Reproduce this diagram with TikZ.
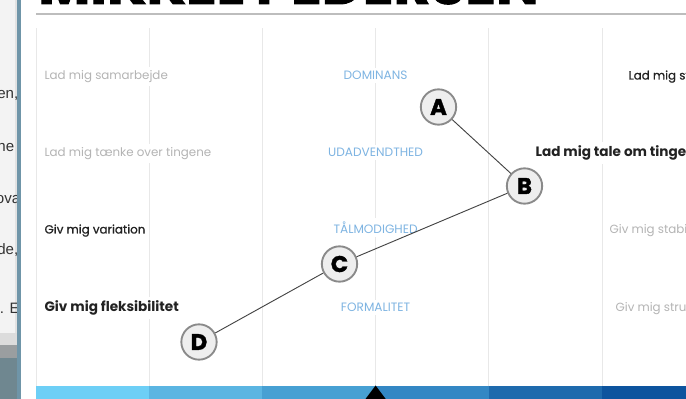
\documentclass[tikz,border=0pt]{standalone}
\usepackage{fontspec}
\setmainfont{Poppins}
\newfontfamily\popmed[FakeBold=0.7]{Poppins}
\newfontfamily\popheavy[FakeBold=1.6]{Poppins}
\newfontfamily\stripfont{Liberation Sans}
\definecolor{gridc}{HTML}{E8E8E8}
\definecolor{rulec}{HTML}{BDBDBD}
\definecolor{lightc}{HTML}{B4B4B4}
\definecolor{bluec}{HTML}{7EB4E2}
\definecolor{darkc}{HTML}{222222}
\definecolor{circfill}{HTML}{EEEEEE}
\definecolor{circdraw}{HTML}{8A8A8A}
\definecolor{connc}{HTML}{444444}
\definecolor{barA}{HTML}{6DCFF6}
\definecolor{barB}{HTML}{5BB5E2}
\definecolor{barC}{HTML}{47A0D3}
\definecolor{barD}{HTML}{3387C4}
\definecolor{barE}{HTML}{1E6AAD}
\definecolor{barF}{HTML}{0D549E}
\definecolor{stripbg}{HTML}{F3F3F3}
\definecolor{stripedge}{HTML}{E2E2E2}
\definecolor{borderc}{HTML}{6F95A8}
\definecolor{striptext}{HTML}{333333}
\definecolor{imgA}{HTML}{DCDCDC}
\definecolor{imgB}{HTML}{9A9EA0}
\definecolor{imgC}{HTML}{6F8790}
\tikzset{
  gridline/.style={draw=gridc, line width=0.75pt},
  lbl/.style={fill=white, inner xsep=1pt, inner ysep=2.5pt, anchor=base west},
  lightlbl/.style={lbl, text=lightc, font=\fontsize{8.9}{10}\selectfont},
  medlbl/.style={lbl, text=darkc, font=\popmed\fontsize{8.9}{10}\selectfont},
  boldlbl/.style={lbl, text=darkc, font=\bfseries\fontsize{10.2}{11}\selectfont},
  bluelbl/.style={fill=white, inner xsep=1pt, inner ysep=2.5pt, anchor=base, text=bluec, font=\fontsize{9.1}{10}\selectfont},
  marker/.style={circle, draw=circdraw, line width=1.4pt, fill=circfill, minimum size=26.5pt, inner sep=0pt, font=\popheavy\bfseries\fontsize{17}{17}\selectfont, text=black},
  conn/.style={draw=connc, line width=0.7pt},
  striptxt/.style={anchor=base east, inner sep=0pt, text=striptext, font=\stripfont\fontsize{11.3}{13}\selectfont}
}
\begin{document}
\begin{tikzpicture}[x=0.75pt, y=-0.75pt]
\useasboundingbox (0,0) rectangle (686,399);
\clip (0,0) rectangle (686,399);
% left strip (page behind the panel)
\fill[stripbg] (0,0) rectangle (17,333);
\fill[stripedge] (15,0) rectangle (17,333);
\fill[imgA] (0,333) rectangle (17,345);
\node[striptxt] (s1) at (18.5,99) {en,};
\node[striptxt] (s2) at (14.5,152) {ne};
\node[striptxt] (s3) at (20.5,204) {ova};
\node[striptxt] (s4) at (18.5,255) {de,};
\node[striptxt] (s5) at (20,313) {. E};
\fill[imgB] (0,345) rectangle (17,358);
\fill[imgC] (0,358) rectangle (17,399);
\fill[borderc] (17,0) rectangle (20.5,399);
% title (cut off at the top)
\node[anchor=base west, inner sep=0pt, font=\popheavy\bfseries\fontsize{42.5}{42.5}\selectfont, text=black] (title) at (38,4) {MIKKEL PEDERSEN};
\draw[rulec, line width=1.6pt] (36,14.3) -- (686,14.3);
% grid
\foreach \gx in {36,149.2,262.4,375.6,488.8,602}{
  \draw[gridline] (\gx,28) -- (\gx,386);
}
% bottom bar
\fill[barA] (36,386) rectangle (149.2,399);
\fill[barB] (149.2,386) rectangle (262.4,399);
\fill[barC] (262.4,386) rectangle (375.6,399);
\fill[barD] (375.6,386) rectangle (488.8,399);
\fill[barE] (488.8,386) rectangle (602,399);
\fill[barF] (602,386) rectangle (686,399);
\fill[black] (375.6,385.5) -- (364,401) -- (387.2,401) -- cycle;
% labels row 1
\node[lightlbl] (l1) at (43,79.5) {Lad mig samarbejde};
\node[bluelbl] (b1) at (375.6,79.5) {DOMINANS};
\node[medlbl] (r1) at (627,79.5) {Lad mig st};
% row 2
\node[lightlbl] (l2) at (43,156.5) {Lad mig tænke over tingene};
\node[bluelbl] (b2) at (375.6,156.5) {UDADVENDTHED};
\node[boldlbl] (r2) at (534,156.5) {Lad mig tale om tinge};
% row 3
\node[medlbl] (l3) at (43,233.5) {Giv mig variation};
\node[bluelbl] (b3) at (375.6,233.5) {TÅLMODIGHED};
\node[lightlbl] (r3) at (608,233.5) {Giv mig stabil};
% row 4
\node[boldlbl] (l4) at (43,311.5) {Giv mig fleksibilitet};
\node[bluelbl] (b4) at (375.6,311.5) {FORMALITET};
\node[lightlbl] (r4) at (614,311.5) {Giv mig struk};
% markers
\node[marker] (A) at (438.5,107) {A};
\node[marker] (B) at (524.5,186) {B};
\node[marker] (C) at (339.5,264) {C};
\node[marker] (D) at (199,342) {D};
\draw[conn] (A) -- (B);
\draw[conn] (B) -- (C);
\draw[conn] (C) -- (D);
\end{tikzpicture}
\end{document}
